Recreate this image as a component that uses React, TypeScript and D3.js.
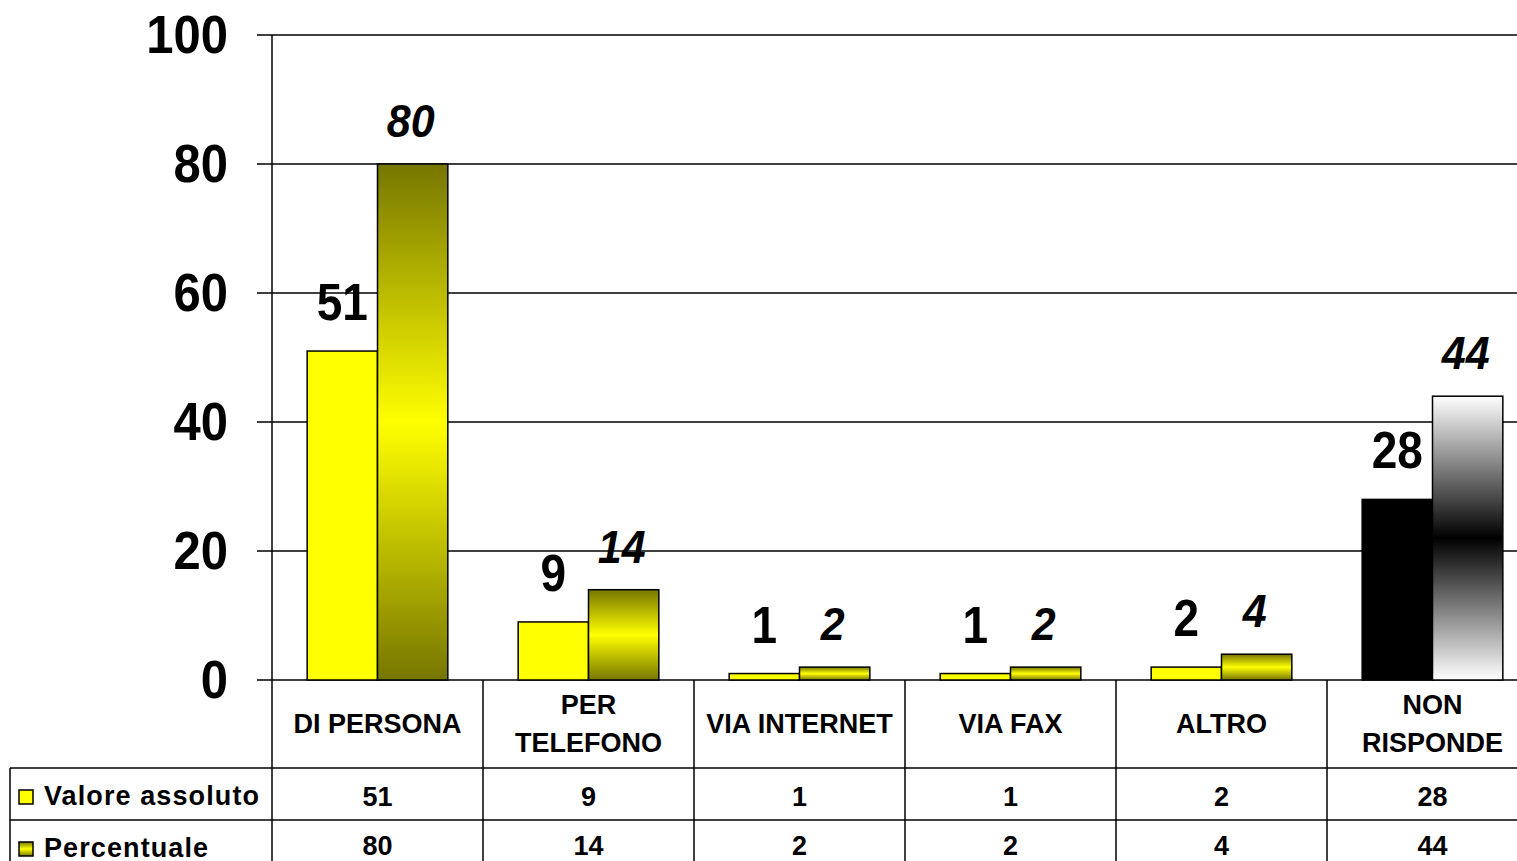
import React from 'react';
import * as d3 from 'd3';

const categories = [['DI PERSONA'], ['PER', 'TELEFONO'], ['VIA INTERNET'], ['VIA FAX'], ['ALTRO'], ['NON', 'RISPONDE']];
const valoreAssoluto = [51, 9, 1, 1, 2, 28];
const percentuale = [80, 14, 2, 2, 4, 44];
const seriesNames = ['Valore assoluto', 'Percentuale'];
const yTicks = [0, 20, 40, 60, 80, 100];

const FONT = "'Liberation Sans', Arial, sans-serif";

export default function App() {
  const width = 1517;
  const height = 861;
  const left = 272;
  const top = 35;
  const bottom = 680;
  const band = 211;

  const keys = categories.map((c) => c.join(' '));
  const x = d3.scaleBand().domain(keys).range([left, left + band * keys.length]).paddingInner(0).paddingOuter(0);
  const sub = d3.scaleBand().domain(['abs', 'pct']).range([0, x.bandwidth()]).paddingInner(0).paddingOuter(0.5);
  const y = d3.scaleLinear().domain([0, 100]).range([bottom, top]);

  const row1 = 768;
  const row2 = 820;

  const lastIdx = keys.length - 1;

  return (
    <svg width={width} height={height} style={{ position: 'absolute', left: 0, top: 0, background: '#fff' }}
         fontFamily={FONT}>
      <defs>
        <linearGradient id="olive" x1="0" y1="0" x2="0" y2="1">
          <stop offset="0" stopColor="#767600" />
          <stop offset="0.5" stopColor="#ffff00" />
          <stop offset="1" stopColor="#767600" />
        </linearGradient>
        <linearGradient id="grey" x1="0" y1="0" x2="0" y2="1">
          <stop offset="0" stopColor="#ffffff" />
          <stop offset="0.5" stopColor="#000000" />
          <stop offset="1" stopColor="#ffffff" />
        </linearGradient>
      </defs>

      {/* grid + ticks */}
      {yTicks.map((t) => (
        <g key={t}>
          <line x1={257} x2={width} y1={y(t)} y2={y(t)} stroke="#000" strokeWidth={1.5} />
          <text transform={`translate(228,${y(t) + 18}) scale(1,1.1)`} textAnchor="end"
                fontSize={49} fontWeight="bold">{t}</text>
        </g>
      ))}
      <line x1={left} x2={left} y1={top} y2={height} stroke="#000" strokeWidth={1.5} />

      {/* bars */}
      {keys.map((k, i) => {
        const x0 = x(k)!;
        const other = i === lastIdx;
        const va = valoreAssoluto[i];
        const pc = percentuale[i];
        return (
          <g key={k}>
            <rect x={x0 + sub('abs')!} y={y(va)} width={sub.bandwidth()} height={bottom - y(va)}
                  fill={other ? '#000' : '#ffff00'} stroke="#000" strokeWidth={1.5} />
            <rect x={x0 + sub('pct')!} y={y(pc)} width={sub.bandwidth()} height={bottom - y(pc)}
                  fill={other ? 'url(#grey)' : 'url(#olive)'} stroke="#000" strokeWidth={1.5} />
            <text transform={`translate(${x0 + sub('abs')! + sub.bandwidth() / 2},${y(va) - 31}) scale(1,1.12)`}
                  textAnchor="middle" fontSize={46} fontWeight="bold">{va}</text>
            <text transform={`translate(${x0 + sub('pct')! + sub.bandwidth() / 2 - 2},${y(pc) - 27}) scale(1,1.08)`}
                  textAnchor="middle" fontSize={43} fontWeight="bold" fontStyle="italic">{pc}</text>
          </g>
        );
      })}

      {/* data table */}
      <line x1={10} x2={width} y1={row1} y2={row1} stroke="#000" strokeWidth={1.5} />
      <line x1={10} x2={width} y1={row2} y2={row2} stroke="#000" strokeWidth={1.5} />
      <line x1={10} x2={10} y1={row1} y2={height} stroke="#000" strokeWidth={1.5} />
      {keys.map((k) => (
        <line key={'v' + k} x1={x(k)! + band} x2={x(k)! + band} y1={bottom} y2={height}
              stroke="#000" strokeWidth={1.5} />
      ))}
      {categories.map((lines, i) => {
        const cx = x(keys[i])! + band / 2;
        const mid = (bottom + row1) / 2;
        return (
          <text key={'c' + i} textAnchor="middle" fontSize={27} fontWeight="bold">
            {lines.map((l, j) => (
              <tspan key={j} x={cx} y={mid + 9 + (j - (lines.length - 1) / 2) * 38}>{l}</tspan>
            ))}
          </text>
        );
      })}
      {keys.map((k, i) => (
        <g key={'t' + k}>
          <text x={x(k)! + band / 2} y={row1 + 38} textAnchor="middle" fontSize={27} fontWeight="bold">
            {valoreAssoluto[i]}
          </text>
          <text x={x(k)! + band / 2} y={row2 + 35} textAnchor="middle" fontSize={27} fontWeight="bold">
            {percentuale[i]}
          </text>
        </g>
      ))}

      {/* legend keys */}
      {seriesNames.map((s, i) => {
        const ry = i === 0 ? row1 : row2;
        return (
          <g key={s}>
            <rect x={19} y={ry + 22} width={14} height={14} fill={i === 0 ? '#ffff00' : 'url(#olive)'}
                  stroke="#000" strokeWidth={1.5} />
            <text x={44} y={ry + 37} fontSize={27} fontWeight="bold" letterSpacing={1.1}>{s}</text>
          </g>
        );
      })}
    </svg>
  );
}
